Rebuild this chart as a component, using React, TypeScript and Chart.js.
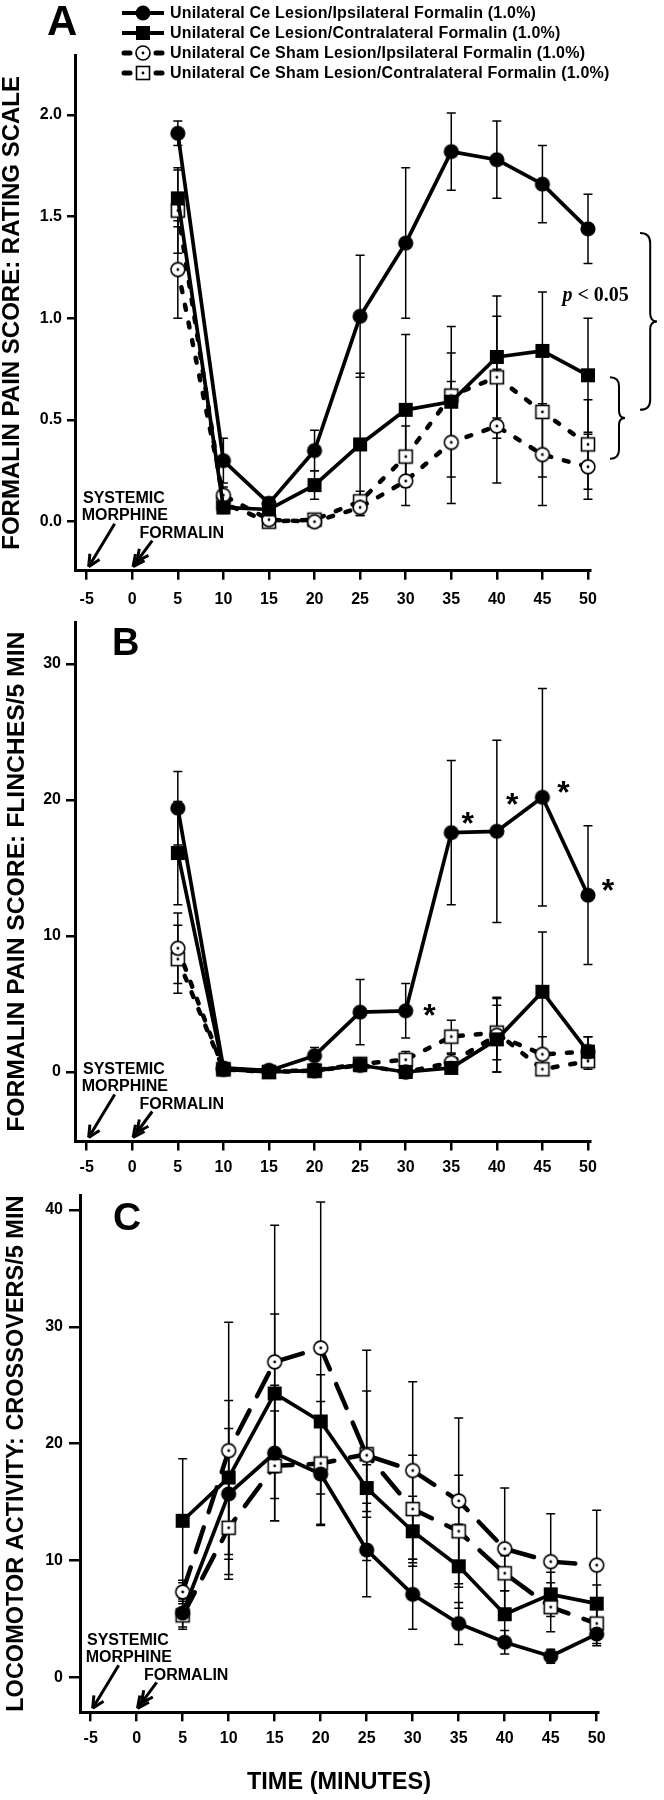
import React, { useEffect, useRef } from "react";
import { Chart, registerables } from "chart.js";

Chart.register(...registerables);

const FONT = '"Liberation Sans", Arial, Helvetica, sans-serif';
const SERIF = '"Liberation Serif", "Times New Roman", serif';

// ---------------- data ----------------
const MINUTES = [5, 10, 15, 20, 25, 30, 35, 40, 45, 50];
const X_TICKS = [-5, 0, 5, 10, 15, 20, 25, 30, 35, 40, 45, 50];
const MORPHINE_AT = -5;
const FORMALIN_AT = 0;
const SERIES_NAMES = [
  "Unilateral Ce Lesion/Ipsilateral Formalin (1.0%)",
  "Unilateral Ce Lesion/Contralateral Formalin (1.0%)",
  "Unilateral Ce Sham Lesion/Ipsilateral Formalin (1.0%)",
  "Unilateral Ce Sham Lesion/Contralateral Formalin (1.0%)",
];

// Panel A: rating scale
const A_Y_TICKS = [0, 0.5, 1.0, 1.5, 2.0];
const A_LESION_IPSI = [1.91, 0.3, 0.09, 0.35, 1.01, 1.37, 1.82, 1.78, 1.66, 1.44];
const A_LESION_IPSI_SEM = [0.06, 0.11, 0.03, 0.1, 0.3, 0.37, 0.19, 0.19, 0.19, 0.17];
const A_LESION_CONTRA = [1.59, 0.07, 0.06, 0.18, 0.38, 0.55, 0.59, 0.81, 0.84, 0.72];
const A_LESION_CONTRA_SEM = [0.14, 0.03, 0.02, 0.07, 0.35, 0.37, 0.37, 0.3, 0.29, 0.28];
const A_SHAM_IPSI = [1.24, 0.13, 0.01, 0.0, 0.07, 0.2, 0.39, 0.47, 0.33, 0.27];
const A_SHAM_IPSI_SEM = [0.24, 0.04, 0.01, 0.02, 0.04, 0.12, 0.3, 0.28, 0.25, 0.16];
const A_SHAM_CONTRA = [1.53, 0.09, 0.0, 0.01, 0.1, 0.32, 0.62, 0.71, 0.54, 0.38];
const A_SHAM_CONTRA_SEM = [0.21, 0.03, 0.01, 0.02, 0.05, 0.15, 0.21, 0.3, 0.32, 0.22];
const A_P_LABEL = "< 0.05";
const A_P_LABEL_X = 47.2;
const A_P_LABEL_Y = 1.086;
const A_BRACE_SPANS = [
  [1.42, 0.55],
  [0.71, 0.31],
];

// Panel B: flinches / 5 min
const B_Y_TICKS = [0, 10, 20, 30];
const B_LESION_IPSI = [19.4, 0.3, 0.1, 1.2, 4.4, 4.5, 17.6, 17.7, 20.2, 13.0];
const B_LESION_IPSI_SEM = [2.7, 0.2, 0.1, 0.6, 2.4, 2.0, 5.3, 6.7, 8.0, 5.1];
const B_LESION_CONTRA = [16.1, 0.2, 0.0, 0.1, 0.5, 0.0, 0.3, 2.4, 5.9, 1.5];
const B_LESION_CONTRA_SEM = [3.8, 0.2, 0.1, 0.1, 0.3, 0.2, 0.4, 3.1, 4.4, 1.1];
const B_SHAM_IPSI = [9.1, 0.2, 0.1, 0.1, 0.5, 0.0, 0.7, 2.7, 1.3, 1.5];
const B_SHAM_IPSI_SEM = [2.6, 0.2, 0.1, 0.1, 0.3, 0.2, 0.6, 2.7, 1.3, 1.1];
const B_SHAM_CONTRA = [8.3, 0.2, 0.0, 0.1, 0.6, 0.9, 2.6, 2.9, 0.2, 0.8];
const B_SHAM_CONTRA_SEM = [2.5, 0.2, 0.1, 0.1, 0.3, 0.6, 1.2, 2.0, 0.2, 0.6];
const B_ASTERISK_X = [32.6, 36.8, 41.7, 47.3, 52.2];
const B_ASTERISK_Y = [4.7, 18.8, 20.2, 21.1, 13.9];

// Panel C: locomotor crossovers / 5 min
const C_Y_TICKS = [0, 10, 20, 30, 40];
const C_LESION_IPSI = [5.5, 15.7, 19.2, 17.4, 10.9, 7.1, 4.6, 3.0, 1.8, 3.7];
const C_LESION_IPSI_SEM = [1.2, 5.6, 5.8, 4.3, 4.0, 3.0, 1.8, 1.0, 0.6, 1.0];
const C_LESION_CONTRA = [13.4, 17.1, 24.3, 21.9, 16.2, 12.5, 9.5, 5.4, 7.1, 6.3];
const C_LESION_CONTRA_SEM = [5.3, 6.6, 6.8, 4.0, 2.0, 3.0, 3.6, 2.0, 1.9, 1.6];
const C_SHAM_IPSI = [7.3, 19.4, 27.0, 28.2, 19.0, 17.7, 15.1, 11.0, 9.9, 9.6];
const C_SHAM_IPSI_SEM = [1.0, 11.0, 11.7, 12.5, 9.0, 7.6, 7.1, 5.2, 4.1, 4.7];
const C_SHAM_CONTRA = [5.3, 12.8, 18.1, 18.3, 19.1, 14.4, 12.5, 8.9, 6.0, 4.6];
const C_SHAM_CONTRA_SEM = [1.2, 4.0, 4.7, 5.3, 5.4, 4.6, 4.8, 1.5, 2.1, 1.7];

// ---------------- drawing helpers ----------------
type MarkerKind = "filledCircle" | "filledSquare" | "hollowCircle" | "hollowSquare";
const KINDS: MarkerKind[] = ["filledCircle", "filledSquare", "hollowCircle", "hollowSquare"];

function makeMarker(kind: MarkerKind): HTMLCanvasElement {
  const c = document.createElement("canvas");
  const size = 20;
  c.width = size;
  c.height = size;
  const g = c.getContext("2d")!;
  const m = size / 2;
  g.strokeStyle = "#000";
  g.lineWidth = 1.6;
  if (kind === "filledCircle") {
    g.fillStyle = "#000";
    g.beginPath();
    g.arc(m, m, 7.6, 0, Math.PI * 2);
    g.fill();
  } else if (kind === "filledSquare") {
    g.fillStyle = "#000";
    g.fillRect(m - 7, m - 7, 14, 14);
  } else if (kind === "hollowCircle") {
    g.fillStyle = "#fff";
    g.beginPath();
    g.arc(m, m, 6.9, 0, Math.PI * 2);
    g.fill();
    g.stroke();
  } else {
    g.fillStyle = "#fff";
    g.fillRect(m - 6.5, m - 6.5, 13, 13);
    g.strokeRect(m - 6.5, m - 6.5, 13, 13);
  }
  if (kind === "hollowCircle" || kind === "hollowSquare") {
    g.fillStyle = "#000";
    g.beginPath();
    g.arc(m, m, 1.4, 0, Math.PI * 2);
    g.fill();
  }
  return c;
}

function drawArrow(ctx: CanvasRenderingContext2D, x1: number, y1: number, x2: number, y2: number, heads: number) {
  ctx.lineWidth = 3;
  ctx.lineCap = "butt";
  ctx.lineJoin = "miter";
  ctx.beginPath();
  ctx.moveTo(x1, y1);
  ctx.lineTo(x2, y2);
  ctx.stroke();
  const ang = Math.atan2(y2 - y1, x2 - x1);
  for (let h = 0; h < heads; h++) {
    const tx = x2 - Math.cos(ang) * h * 6.5;
    const ty = y2 - Math.sin(ang) * h * 6.5;
    ctx.beginPath();
    for (const s of [-1, 1]) {
      const a = ang + Math.PI + s * 0.45;
      ctx.moveTo(tx, ty);
      ctx.lineTo(tx + Math.cos(a) * 13, ty + Math.sin(a) * 13);
    }
    ctx.stroke();
  }
}

function drawBrace(ctx: CanvasRenderingContext2D, x0: number, w: number, yTop: number, yBot: number) {
  const s = x0 + w * 0.6;
  const c = x0 + w;
  const m = (yTop + yBot) / 2;
  const r = Math.min(w * 0.6, (yBot - yTop) / 4);
  ctx.lineWidth = 2;
  ctx.beginPath();
  ctx.moveTo(x0, yTop);
  ctx.quadraticCurveTo(s, yTop, s, yTop + r);
  ctx.lineTo(s, m - r * 0.8);
  ctx.quadraticCurveTo(s, m, c, m);
  ctx.quadraticCurveTo(s, m, s, m + r * 0.8);
  ctx.lineTo(s, yBot - r);
  ctx.quadraticCurveTo(s, yBot, x0, yBot);
  ctx.stroke();
}

const errorBarsPlugin = {
  id: "errorBars",
  beforeDatasetsDraw(chart: any) {
    const { ctx, scales } = chart;
    const x = scales.x;
    const y = scales.y;
    ctx.save();
    ctx.strokeStyle = "#000";
    ctx.lineWidth = 1.5;
    chart.data.datasets.forEach((d: any) => {
      if (!d.sem) return;
      d.data.forEach((p: any, i: number) => {
        const e = d.sem[i];
        if (!e) return;
        const px = x.getPixelForValue(p.x);
        const yHi = y.getPixelForValue(p.y + e);
        const yLo = y.getPixelForValue(Math.max(p.y - e, 0));
        ctx.beginPath();
        ctx.moveTo(px, yHi);
        ctx.lineTo(px, yLo);
        ctx.moveTo(px - 4.5, yHi);
        ctx.lineTo(px + 4.5, yHi);
        ctx.moveTo(px - 4.5, yLo);
        ctx.lineTo(px + 4.5, yLo);
        ctx.stroke();
      });
    });
    ctx.restore();
  },
};

type Spec = {
  key: string;
  canvasTop: number;
  canvasHeight: number;
  axisLeft: number;
  axisRight: number;
  axisTop: number;
  axisBottom: number;
  xMin: number;
  xMax: number;
  yMin: number;
  yMax: number;
  yTicks: number[];
  yDecimals: number;
  yTitle: string;
  yTitleSize: number;
  yTitlePad: number;
  yTickLen: number;
  yTickPad: number;
  xTickPad: number;
  xTitle?: string;
  letter: string;
  letterX: number;
  letterBaseline: number;
  letterSize: number;
  series: number[][][];
  shamDash: number[];
  extras?: (chart: any) => void;
};

function extrasA(chart: any) {
  const { ctx, scales } = chart;
  const x = scales.x;
  const y = scales.y;
  ctx.textAlign = "left";
  ctx.textBaseline = "alphabetic";
  const px = x.getPixelForValue(A_P_LABEL_X);
  const py = y.getPixelForValue(A_P_LABEL_Y);
  ctx.font = `italic bold 20px ${SERIF}`;
  ctx.fillText("p", px, py);
  const w = ctx.measureText("p ").width;
  ctx.font = `bold 20px ${SERIF}`;
  ctx.fillText(A_P_LABEL, px + w, py);
  const x50 = x.getPixelForValue(50);
  drawBrace(ctx, x50 + 52, 17, y.getPixelForValue(A_BRACE_SPANS[0][0]), y.getPixelForValue(A_BRACE_SPANS[0][1]));
  drawBrace(ctx, x50 + 22, 15, y.getPixelForValue(A_BRACE_SPANS[1][0]), y.getPixelForValue(A_BRACE_SPANS[1][1]));
}

function extrasB(chart: any) {
  const { ctx, scales } = chart;
  ctx.font = `bold 32px ${FONT}`;
  ctx.textAlign = "center";
  ctx.textBaseline = "alphabetic";
  B_ASTERISK_X.forEach((ax, i) => {
    const px = scales.x.getPixelForValue(ax);
    const py = scales.y.getPixelForValue(B_ASTERISK_Y[i]);
    ctx.fillText("*", px, py + 17.6);
  });
}

function decorPlugin(spec: Spec) {
  return {
    id: "decor" + spec.key,
    afterDatasetsDraw(chart: any) {
      const { ctx, chartArea, scales } = chart;
      const x = scales.x;
      ctx.save();
      ctx.fillStyle = "#000";
      ctx.strokeStyle = "#000";
      ctx.textAlign = "left";
      ctx.textBaseline = "alphabetic";
      ctx.font = `bold ${spec.letterSize}px ${FONT}`;
      ctx.fillText(spec.letter, spec.letterX, spec.letterBaseline - spec.canvasTop);
      const b = chartArea.bottom;
      const pm = x.getPixelForValue(MORPHINE_AT);
      const pf = x.getPixelForValue(FORMALIN_AT);
      ctx.font = `bold 16px ${FONT}`;
      ctx.fillText("SYSTEMIC", pm - 3.7, b - 67.5);
      ctx.fillText("MORPHINE", pm - 5, b - 50.5);
      ctx.fillText("FORMALIN", pf + 7.3, b - 32.5);
      drawArrow(ctx, pm + 28, b - 47, pm + 2, b - 4, 1);
      drawArrow(ctx, pf + 20, b - 30, pf + 0.8, b - 4, 2);
      if (spec.extras) spec.extras(chart);
      ctx.restore();
    },
  };
}

function buildConfig(spec: Spec): any {
  const datasets = spec.series.map(([vals, sem], i) => ({
    label: SERIES_NAMES[i],
    data: MINUTES.map((m, j) => ({ x: m, y: vals[j] })),
    sem,
    borderColor: "#000",
    backgroundColor: "#000",
    borderWidth: i < 2 ? 3.7 : 4.5,
    borderDash: i < 2 ? [] : spec.shamDash,
    borderCapStyle: i < 2 ? "butt" : "round",
    borderJoinStyle: "round",
    pointStyle: makeMarker(KINDS[i]),
    pointRadius: 7,
    pointHoverRadius: 7,
    pointHitRadius: 0,
    tension: 0,
    fill: false,
    clip: false,
  }));
  const tickFont = { family: FONT, size: 16, weight: "bold" as const };
  return {
    type: "line",
    data: { datasets },
    options: {
      responsive: false,
      maintainAspectRatio: false,
      animation: false,
      devicePixelRatio: 1,
      events: [],
      layout: {
        padding: { left: 0, top: spec.axisTop - spec.canvasTop, right: 664 - spec.axisRight, bottom: 0 },
      },
      plugins: { legend: { display: false }, tooltip: { enabled: false }, title: { display: false } },
      scales: {
        x: {
          type: "linear",
          min: spec.xMin,
          max: spec.xMax,
          afterBuildTicks: (s: any) => {
            s.ticks = X_TICKS.map((v) => ({ value: v }));
          },
          afterFit: (s: any) => {
            s.height = spec.canvasTop + spec.canvasHeight - spec.axisBottom;
          },
          ticks: {
            color: "#000",
            font: tickFont,
            padding: spec.xTickPad,
            autoSkip: false,
            maxRotation: 0,
            minRotation: 0,
            callback: (v: any) => String(v),
          },
          grid: {
            drawOnChartArea: false,
            drawTicks: true,
            tickLength: 9,
            tickWidth: 2.5,
            tickColor: "#000",
            color: "#000",
            lineWidth: 2.5,
          },
          border: { display: true, color: "#000", width: 3 },
          title: spec.xTitle
            ? {
                display: true,
                text: spec.xTitle,
                color: "#000",
                font: { family: FONT, size: 23.5, weight: "bold", lineHeight: 1 },
                padding: { top: 0, bottom: 5.5 },
              }
            : { display: false },
        },
        y: {
          type: "linear",
          min: spec.yMin,
          max: spec.yMax,
          afterBuildTicks: (s: any) => {
            s.ticks = spec.yTicks.map((v) => ({ value: v }));
          },
          afterFit: (s: any) => {
            s.width = spec.axisLeft;
          },
          ticks: {
            color: "#000",
            font: tickFont,
            padding: spec.yTickPad,
            autoSkip: false,
            callback: (v: any) => Number(v).toFixed(spec.yDecimals),
          },
          grid: {
            drawOnChartArea: false,
            drawTicks: true,
            tickLength: spec.yTickLen,
            tickWidth: 2.5,
            tickColor: "#000",
            color: "#000",
            lineWidth: 2.5,
          },
          border: { display: true, color: "#000", width: 3 },
          title: {
            display: true,
            text: spec.yTitle,
            color: "#000",
            font: { family: FONT, size: spec.yTitleSize, weight: "bold", lineHeight: 1 },
            padding: { top: spec.yTitlePad, bottom: 0 },
          },
        },
      },
    },
    plugins: [errorBarsPlugin, decorPlugin(spec)],
  };
}

const SPEC_A: Spec = {
  key: "A",
  canvasTop: 0,
  canvasHeight: 620,
  axisLeft: 75,
  axisRight: 590,
  axisTop: 55,
  axisBottom: 570.7,
  xMin: -6.28,
  xMax: 50.22,
  yMin: -0.241,
  yMax: 2.295,
  yTicks: A_Y_TICKS,
  yDecimals: 1,
  yTitle: "FORMALIN PAIN SCORE: RATING SCALE",
  yTitleSize: 24,
  yTitlePad: 0.5,
  yTickLen: 8,
  yTickPad: 5,
  xTickPad: 10,
  letter: "A",
  letterX: 47,
  letterBaseline: 35,
  letterSize: 42,
  series: [
    [A_LESION_IPSI, A_LESION_IPSI_SEM],
    [A_LESION_CONTRA, A_LESION_CONTRA_SEM],
    [A_SHAM_IPSI, A_SHAM_IPSI_SEM],
    [A_SHAM_CONTRA, A_SHAM_CONTRA_SEM],
  ],
  shamDash: [5, 13],
  extras: extrasA,
};

const SPEC_B: Spec = {
  key: "B",
  canvasTop: 600,
  canvasHeight: 590,
  axisLeft: 75,
  axisRight: 590,
  axisTop: 622,
  axisBottom: 1141.5,
  xMin: -6.28,
  xMax: 50.22,
  yMin: -5.11,
  yMax: 33.09,
  yTicks: B_Y_TICKS,
  yDecimals: 0,
  yTitle: "FORMALIN PAIN SCORE: FLINCHES/5 MIN",
  yTitleSize: 24.7,
  yTitlePad: 4.6,
  yTickLen: 9,
  yTickPad: 5,
  xTickPad: 7.5,
  letter: "B",
  letterX: 112,
  letterBaseline: 655,
  letterSize: 38,
  series: [
    [B_LESION_IPSI, B_LESION_IPSI_SEM],
    [B_LESION_CONTRA, B_LESION_CONTRA_SEM],
    [B_SHAM_IPSI, B_SHAM_IPSI_SEM],
    [B_SHAM_CONTRA, B_SHAM_CONTRA_SEM],
  ],
  shamDash: [5, 13],
  extras: extrasB,
};

const SPEC_C: Spec = {
  key: "C",
  canvasTop: 1140,
  canvasHeight: 660,
  axisLeft: 80,
  axisRight: 598,
  axisTop: 1195,
  axisBottom: 1712.3,
  xMin: -6.16,
  xMax: 50.14,
  yMin: -3.0,
  yMax: 41.29,
  yTicks: C_Y_TICKS,
  yDecimals: 0,
  yTitle: "LOCOMOTOR ACTIVITY: CROSSOVERS/5 MIN",
  yTitleSize: 23.5,
  yTitlePad: 5.2,
  yTickLen: 11,
  yTickPad: 6,
  xTickPad: 8,
  xTitle: "TIME (MINUTES)",
  letter: "C",
  letterX: 113,
  letterBaseline: 1230,
  letterSize: 39,
  series: [
    [C_LESION_IPSI, C_LESION_IPSI_SEM],
    [C_LESION_CONTRA, C_LESION_CONTRA_SEM],
    [C_SHAM_IPSI, C_SHAM_IPSI_SEM],
    [C_SHAM_CONTRA, C_SHAM_CONTRA_SEM],
  ],
  shamDash: [26, 16],
};

function Panel({ spec }: { spec: Spec }) {
  const ref = useRef<HTMLCanvasElement>(null);
  useEffect(() => {
    if (!ref.current) return;
    const chart = new Chart(ref.current, buildConfig(spec));
    return () => chart.destroy();
  }, [spec]);
  return (
    <canvas
      ref={ref}
      width={664}
      height={spec.canvasHeight}
      style={{ position: "absolute", left: 0, top: spec.canvasTop, width: 664, height: spec.canvasHeight }}
    />
  );
}

const LEGEND_CENTERS = [13.3, 33, 53, 73];

function LegendMarker({ index }: { index: number }) {
  const sham = index >= 2;
  return (
    <svg width={44} height={20} style={{ display: "block", flex: "none" }}>
      {sham ? (
        <g stroke="#000" strokeWidth={5} strokeLinecap="round">
          <line x1={3} y1={10} x2={9} y2={10} />
          <line x1={35} y1={10} x2={41} y2={10} />
        </g>
      ) : (
        <line x1={1} y1={10} x2={43} y2={10} stroke="#000" strokeWidth={4.2} />
      )}
      {index === 0 && <circle cx={22} cy={10} r={7.4} fill="#000" />}
      {index === 1 && <rect x={15} y={3} width={14} height={14} fill="#000" />}
      {index === 2 && <circle cx={22} cy={10} r={7} fill="#fff" stroke="#000" strokeWidth={1.6} />}
      {index === 3 && <rect x={15.5} y={3.5} width={13} height={13} fill="#fff" stroke="#000" strokeWidth={1.6} />}
      {sham && <circle cx={22} cy={10} r={1.4} fill="#000" />}
    </svg>
  );
}

function Legend() {
  return (
    <>
      {SERIES_NAMES.map((name, i) => (
        <div
          key={name}
          style={{
            position: "absolute",
            left: 121,
            top: LEGEND_CENTERS[i] - 10,
            height: 20,
            display: "flex",
            alignItems: "center",
          }}
        >
          <LegendMarker index={i} />
          <span
            style={{
              marginLeft: 5,
              fontFamily: FONT,
              fontWeight: "bold",
              fontSize: 16,
              lineHeight: "20px",
              letterSpacing: "0.2px",
              whiteSpace: "nowrap",
              color: "#000",
            }}
          >
            {name}
          </span>
        </div>
      ))}
    </>
  );
}

export default function App() {
  return (
    <div
      style={{
        position: "absolute",
        left: 0,
        top: 0,
        width: 664,
        height: 1800,
        background: "#fff",
        overflow: "hidden",
      }}
    >
      <Panel spec={SPEC_A} />
      <Panel spec={SPEC_B} />
      <Panel spec={SPEC_C} />
      <Legend />
    </div>
  );
}
